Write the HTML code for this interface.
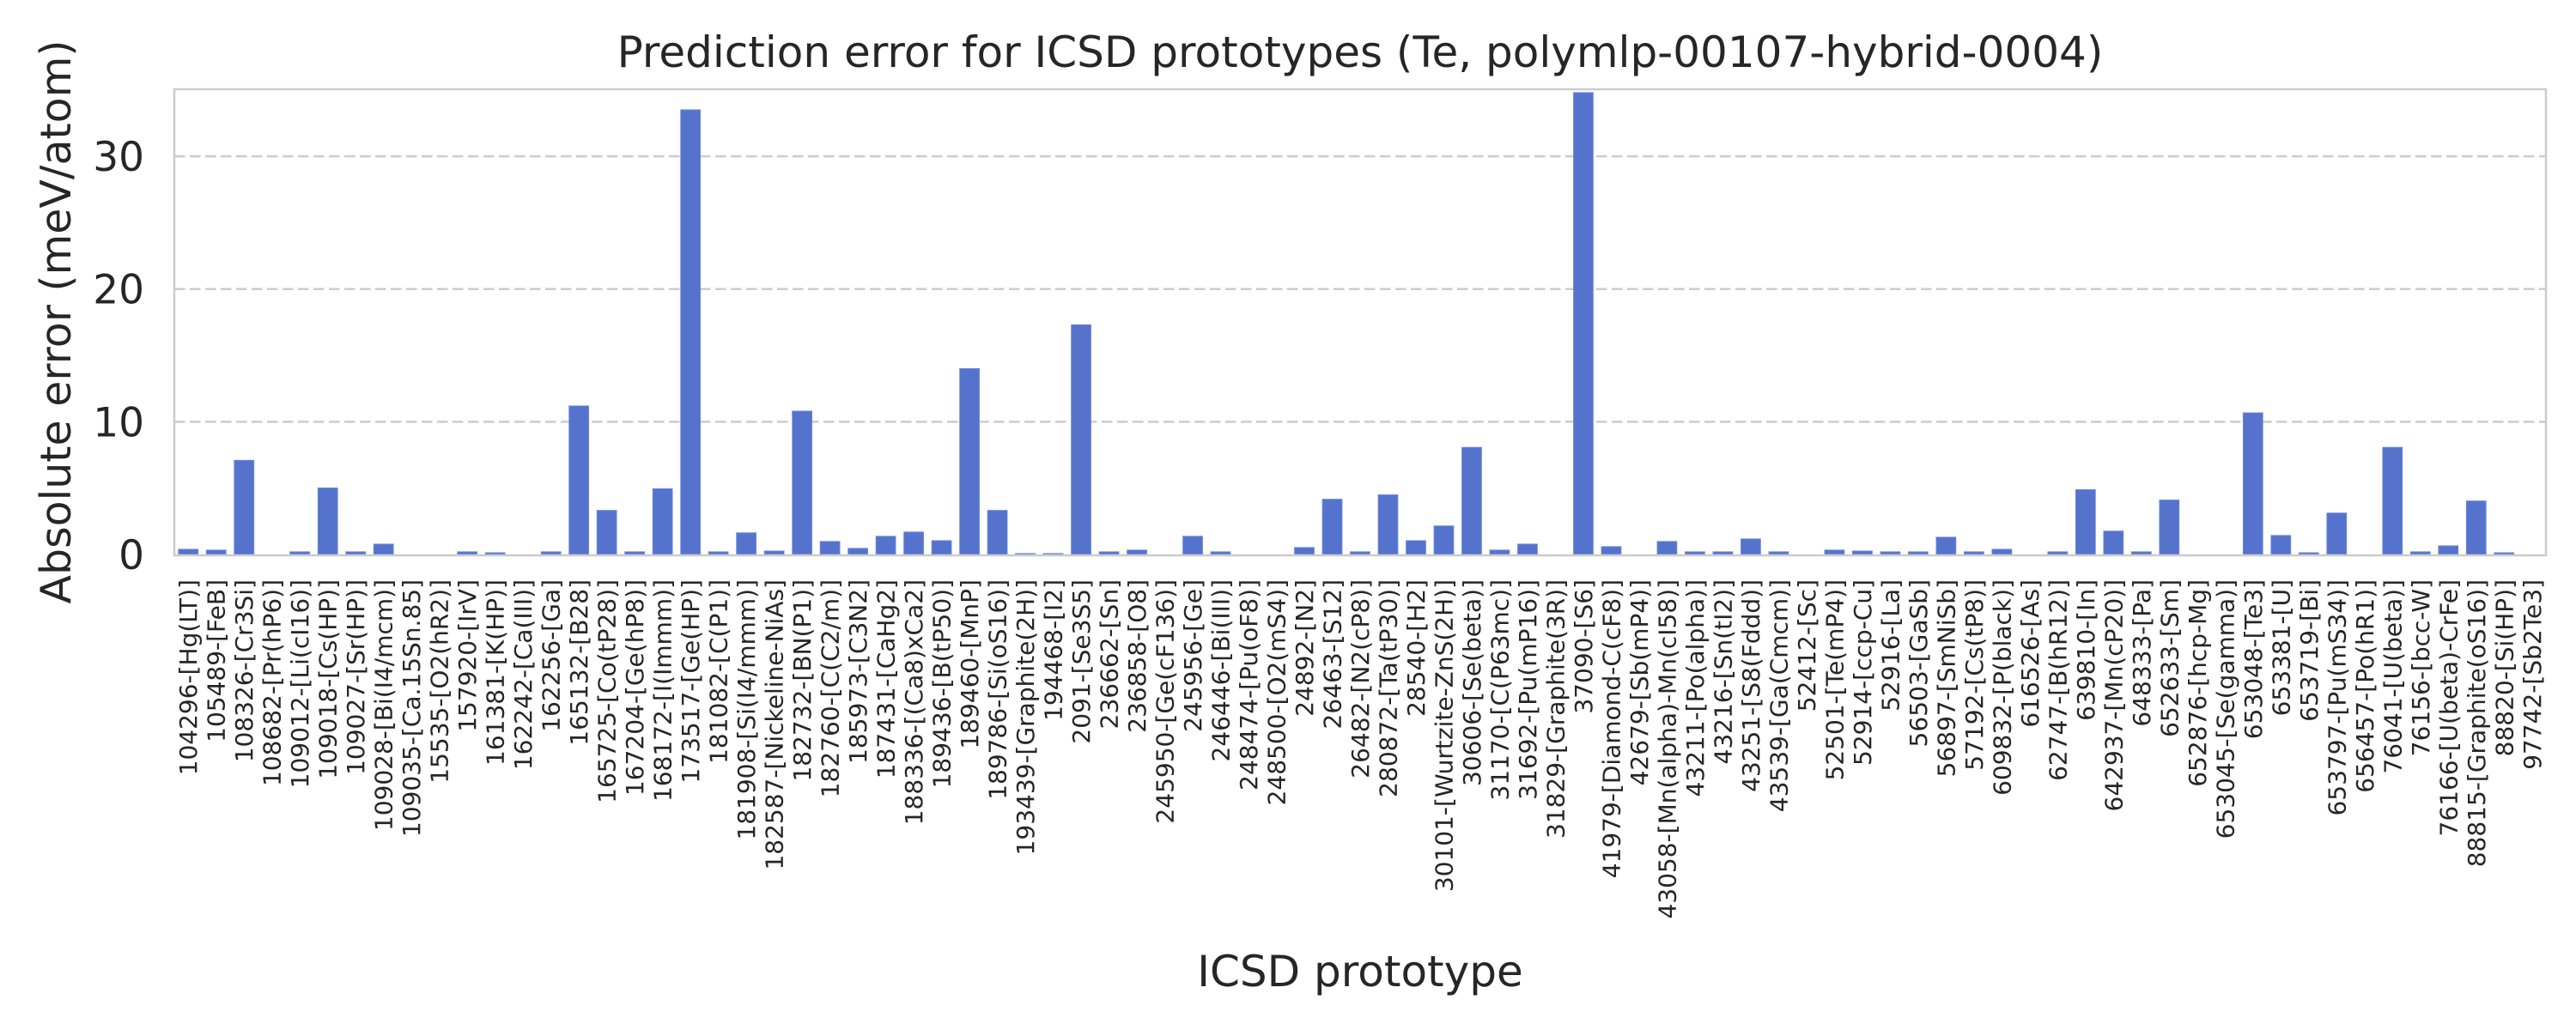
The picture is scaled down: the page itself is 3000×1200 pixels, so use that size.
<!DOCTYPE html>
<html><head><meta charset="utf-8">
<style>
html,body{margin:0;padding:0;background:#fff;}
svg{display:block;font-family:"DejaVu Sans","Liberation Sans",sans-serif;}
</style></head>
<body>
<svg id="chart" width="3000" height="1200" viewBox="0 0 3000 1200" xmlns="http://www.w3.org/2000/svg">
<rect x="0" y="0" width="3000" height="1200" fill="#ffffff"/>
<g id="grid"></g>
<g id="bars"></g>
<rect x="203" y="104" width="2762" height="543" fill="none" stroke="#cccccc" stroke-width="2.5"/>
<g id="yticks"></g>
<g id="xticks"></g>
<text x="1584" y="78" text-anchor="middle" font-size="50" fill="#262626">Prediction error for ICSD prototypes (Te, polymlp-00107-hybrid-0004)</text>
<text x="0" y="0" transform="translate(82,375) rotate(-90)" text-anchor="middle" font-size="49" fill="#262626">Absolute error (meV/atom)</text>
<text x="1584" y="1149" text-anchor="middle" font-size="50" fill="#262626">ICSD prototype</text>
</svg>
<script>
const categories = ["104296-[Hg(LT)]","105489-[FeB]","108326-[Cr3Si]","108682-[Pr(hP6)]","109012-[Li(cI16)]","109018-[Cs(HP)]","109027-[Sr(HP)]","109028-[Bi(I4/mcm)]","109035-[Ca.15Sn.85]","15535-[O2(hR2)]","157920-[IrV]","161381-[K(HP)]","162242-[Ca(III)]","162256-[Ga]","165132-[B28]","165725-[Co(tP28)]","167204-[Ge(hP8)]","168172-[I(Immm)]","173517-[Ge(HP)]","181082-[C(P1)]","181908-[Si(I4/mmm)]","182587-[Nickeline-NiAs]","182732-[BN(P1)]","182760-[C(C2/m)]","185973-[C3N2]","187431-[CaHg2]","188336-[(Ca8)xCa2]","189436-[B(tP50)]","189460-[MnP]","189786-[Si(oS16)]","193439-[Graphite(2H)]","194468-[I2]","2091-[Se3S5]","236662-[Sn]","236858-[O8]","245950-[Ge(cF136)]","245956-[Ge]","246446-[Bi(III)]","248474-[Pu(oF8)]","248500-[O2(mS4)]","24892-[N2]","26463-[S12]","26482-[N2(cP8)]","280872-[Ta(tP30)]","28540-[H2]","30101-[Wurtzite-ZnS(2H)]","30606-[Se(beta)]","31170-[C(P63mc)]","31692-[Pu(mP16)]","31829-[Graphite(3R)]","37090-[S6]","41979-[Diamond-C(cF8)]","42679-[Sb(mP4)]","43058-[Mn(alpha)-Mn(cI58)]","43211-[Po(alpha)]","43216-[Sn(tI2)]","43251-[S8(Fddd)]","43539-[Ga(Cmcm)]","52412-[Sc]","52501-[Te(mP4)]","52914-[ccp-Cu]","52916-[La]","56503-[GaSb]","56897-[SmNiSb]","57192-[Cs(tP8)]","609832-[P(black)]","616526-[As]","62747-[B(hR12)]","639810-[In]","642937-[Mn(cP20)]","648333-[Pa]","652633-[Sm]","652876-[hcp-Mg]","653045-[Se(gamma)]","653048-[Te3]","653381-[U]","653719-[Bi]","653797-[Pu(mS34)]","656457-[Po(hR1)]","76041-[U(beta)]","76156-[bcc-W]","76166-[U(beta)-CrFe]","88815-[Graphite(oS16)]","88820-[Si(HP)]","97742-[Sb2Te3]"];
const errors = [0.39,0.33,7.09,0,0.2,5.01,0.2,0.78,0,0,0.2,0.13,0,0.2,11.19,3.32,0.2,4.95,33.5,0.2,1.63,0.26,10.8,0.98,0.46,1.37,1.69,1.04,14.0,3.32,0.07,0.07,17.3,0.2,0.33,0,1.37,0.2,0,0,0.52,4.16,0.2,4.49,1.04,2.15,8.07,0.33,0.78,0,34.8,0.59,0,0.98,0.2,0.2,1.17,0.2,0,0.33,0.26,0.2,0.2,1.3,0.2,0.39,0,0.2,4.88,1.76,0.2,4.1,0,0,10.67,1.43,0.13,3.12,0,8.07,0.2,0.65,4.03,0.13,0];
const yTicks = [0,10,20,30];
const yMax = 35.05;

const NS = "http://www.w3.org/2000/svg";
const PL = 203, PR = 2965, PT = 104, PB = 646;
const band = (PR - PL) / categories.length;
function xCenter(i){ return PL + band * (i + 0.5); }
function yScale(v){ return PB - (v / yMax) * (PB - PT); }

const grid = document.getElementById('grid');
const yt = document.getElementById('yticks');
yTicks.forEach(t => {
  if (t > 0) {
    const l = document.createElementNS(NS, 'line');
    
    
    l.setAttribute('x1', PL); l.setAttribute('x2', PR);
    l.setAttribute('y1', yScale(t)); l.setAttribute('y2', yScale(t));
    l.setAttribute('stroke', '#cccccc'); l.setAttribute('stroke-width', '2.5');
    l.setAttribute('stroke-dasharray', '12.5 5.5');
    grid.appendChild(l);
  }
  const tx = document.createElementNS(NS, 'text');
  
  
  tx.setAttribute('x', 168);
  tx.setAttribute('y', yScale(t) + 17);
  tx.setAttribute('text-anchor', 'end');
  tx.setAttribute('font-size', '47');
  tx.setAttribute('fill', '#262626');
  tx.textContent = t;
  yt.appendChild(tx);
});

const bars = document.getElementById('bars');
const xt = document.getElementById('xticks');
const bw = band * 0.7;
categories.forEach((c, i) => {
  const v = errors[i];
  const r = document.createElementNS(NS, 'rect');
  
  
  r.setAttribute('x', xCenter(i) - bw / 2);
  r.setAttribute('y', yScale(v));
  r.setAttribute('width', bw);
  r.setAttribute('height', Math.max(0, PB - yScale(v)));
  r.setAttribute('fill', '#5573cd');
  r.setAttribute('stroke', '#6a86d8');
  r.setAttribute('stroke-width', '1');
  bars.appendChild(r);

  const tx = document.createElementNS(NS, 'text');
  
  
  tx.setAttribute('transform', 'translate(' + (xCenter(i) + 10) + ',675) rotate(-90)');
  tx.setAttribute('text-anchor', 'end');
  tx.setAttribute('font-size', '28');
  tx.setAttribute('fill', '#262626');
  tx.textContent = c;
  xt.appendChild(tx);
});
</script>
</body></html>
